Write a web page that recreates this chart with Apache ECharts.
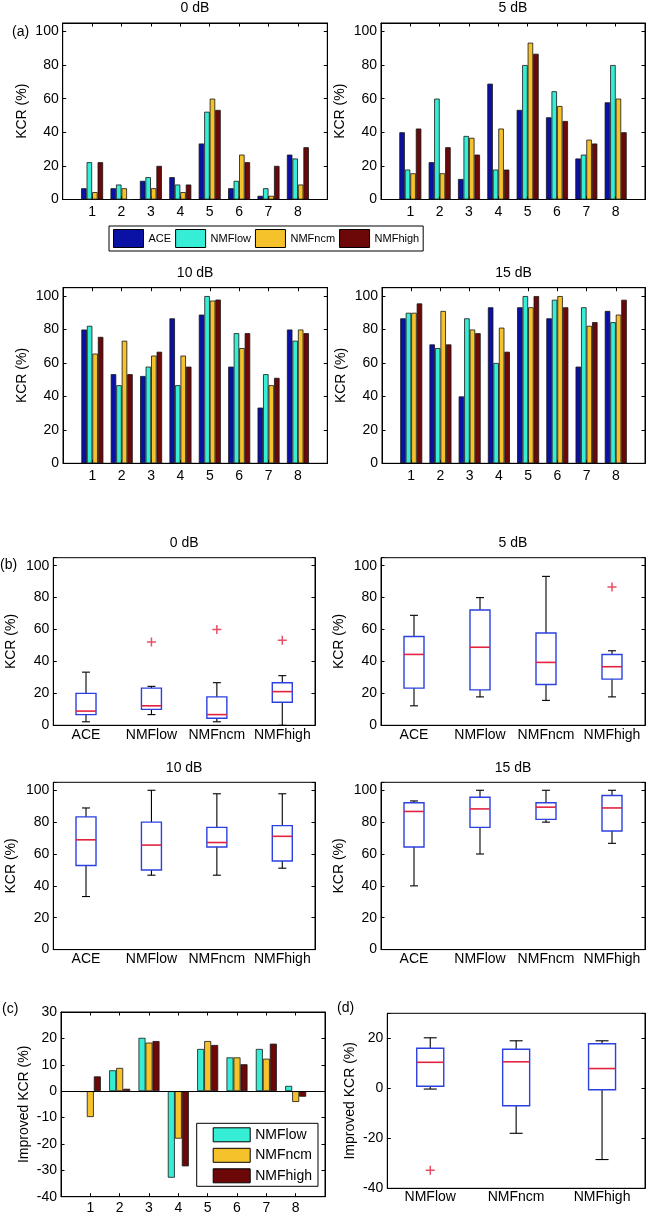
<!DOCTYPE html>
<html><head><meta charset="utf-8">
<script src="https://cdn.jsdelivr.net/npm/echarts@6/dist/echarts.min.js"></script>
<style>html,body{margin:0;padding:0;background:#fff}#c{width:650px;height:1218px}</style>
</head><body><div id="c"></div>
<script>
// ---------- DATA ----------
const categories = [1, 2, 3, 4, 5, 6, 7, 8];
const methods = ['ACE', 'NMFlow', 'NMFncm', 'NMFhigh'];
const nmfMethods = ['NMFlow', 'NMFncm', 'NMFhigh'];
const snrTitles = ['0 dB', '5 dB', '10 dB', '15 dB'];

// (a) KCR (%) per item, per SNR
const ace0  = [6.7, 6.7, 11.1, 13.3, 33.3, 6.7, 2.2, 26.7];
const low0  = [22.2, 8.9, 13.3, 8.9, 52.2, 11.1, 6.7, 24.4];
const ncm0  = [4.4, 6.7, 6.7, 4.4, 60, 26.7, 2.2, 8.9];
const high0 = [22.2, 0, 20, 8.9, 53.3, 22.2, 20, 31.1];

const ace5  = [40, 22.2, 12.2, 68.9, 53.3, 48.9, 24.4, 57.8];
const low5  = [17.8, 60, 37.8, 17.8, 80, 64.4, 26.7, 80];
const ncm5  = [15.6, 15.6, 36.7, 42.2, 93.3, 55.6, 35.6, 60];
const high5 = [42.2, 31.1, 26.7, 17.8, 86.7, 46.7, 33.3, 40];

const ace10  = [80, 53.3, 52.2, 86.7, 88.9, 57.8, 33.3, 80];
const low10  = [82.2, 46.7, 57.8, 46.7, 100, 77.8, 53.3, 73.3];
const ncm10  = [65.6, 73.3, 64.4, 64.4, 97.3, 68.9, 46.7, 80];
const high10 = [75.6, 53.3, 66.7, 57.8, 97.9, 77.8, 51.1, 77.8];

const ace15  = [86.7, 71.1, 40, 93.3, 93.3, 86.7, 57.8, 91.1];
const low15  = [90, 68.9, 86.7, 60, 100, 97.8, 93.3, 84.4];
const ncm15  = [90, 91.1, 80, 81.1, 93.3, 100, 82.2, 88.9];
const high15 = [95.6, 71.1, 77.8, 66.7, 100, 93.3, 84.4, 97.8];

// (b) box statistics [min, Q1, median, Q3, max] per method
const box0  = [[2.2, 6.7, 8.9, 20, 33.3], [6.7, 10, 12.2, 23.3, 24.4], [2.2, 4.4, 6.7, 17.8, 26.7], [0, 14.4, 21.1, 26.7, 31.1]];
const box5  = [[12.2, 23.3, 44.4, 55.6, 68.9], [17.8, 22.2, 48.9, 72.2, 80], [15.6, 25.6, 39.4, 57.8, 93.3], [17.8, 28.9, 36.7, 44.4, 46.7]];
const box10 = [[33.3, 52.8, 68.9, 83.3, 88.9], [46.7, 50, 65.6, 80, 100], [46.7, 64.4, 67.2, 76.7, 97.8], [51.1, 55.6, 71.1, 77.8, 97.8]];
const box15 = [[40, 64.4, 86.7, 92.2, 93.3], [60, 76.7, 88.3, 95.6, 100], [80, 81.7, 89.4, 92.2, 100], [66.7, 74.4, 88.9, 96.7, 100]];
// outliers [methodIndex, value]
const out0  = [[1, 52.2], [2, 60], [3, 53.3]];
const out5  = [[3, 86.7]];
const out10 = [];
const out15 = [];

// (c) improved KCR (%)
const impLow  = [-0.3, 7.9, 20.2, -32.8, 16, 12.8, 16, 2.0];
const impNcm  = [-9.8, 8.8, 18.4, -18, 19, 12.8, 12.3, -4.1];
const impHigh = [5.6, 0.9, 19, -28.5, 17.5, 10.2, 18, -2.1];

// (d) box statistics of improved KCR
const boxImp = [[-0.3, 0.85, 10.4, 16, 20.2], [-18, -7, 10.6, 15.6, 19], [-28.5, -0.6, 7.9, 17.8, 19]];
const outImp = [[0, -32.8]];

// ---------- STYLE ----------
const FONT = '"Liberation Sans", Arial, Helvetica, sans-serif';
const COLORS = { ACE: '#0a12a6', NMFlow: '#36eed6', NMFncm: '#f6c22c', NMFhigh: '#6c0808' };
const BOX_BLUE = '#2b40e0';
const MED_RED = '#e2233f';
const CROSS = 'path://M0,3.75h9v1.5h-9zM3.75,0h1.5v9h-1.5z';

const grids = [], xAxes = [], yAxes = [], series = [], graphics = [];

function addGrid(r) {
  grids.push({ left: r[0], top: r[1], width: r[2], height: r[3], show: true,
    borderColor: '#000', borderWidth: 1, backgroundColor: '#fff' });
  return grids.length - 1;
}
function lineAx() { return { show: true, onZero: false, lineStyle: { color: '#000', width: 1 } }; }

function addYAxes(gi, min, max, interval, name, nameGap) {
  const base = { type: 'value', gridIndex: gi, min: min, max: max, interval: interval,
    axisLine: lineAx(), splitLine: { show: false },
    axisTick: { show: true, inside: true, length: 3.5, lineStyle: { color: '#000' } } };
  yAxes.push(Object.assign({}, base, { position: 'left',
    name: name, nameLocation: 'middle', nameGap: nameGap, nameRotate: 90,
    nameTextStyle: { fontSize: 14, color: '#000', fontFamily: FONT },
    axisLabel: { show: true, margin: 4, fontSize: 14, color: '#000', fontFamily: FONT,
      formatter: v => (Math.abs(v % interval) < 1e-9 && v !== max) || (v === max && max % interval === 0) ? String(v) : '' } }));
  const li = yAxes.length - 1;
  yAxes.push(Object.assign({}, base, { position: 'right', axisLabel: { show: false } }));
  return li;
}

function addValueXAxes(gi, margin, withTop) {
  const base = { type: 'value', gridIndex: gi, min: 0, max: 9, interval: 1,
    axisLine: lineAx(), splitLine: { show: false },
    axisTick: { show: true, inside: true, length: 3.5, lineStyle: { color: '#000' } } };
  xAxes.push(Object.assign({}, base, { position: 'bottom',
    axisLabel: { show: true, margin: margin, fontSize: 14, color: '#000', fontFamily: FONT,
      formatter: v => categories.includes(v) ? String(v) : '' } }));
  const xi = xAxes.length - 1;
  if (withTop) xAxes.push(Object.assign({}, base, { position: 'top', axisLabel: { show: false } }));
  return xi;
}

function addCatXAxis(gi, cats, margin) {
  xAxes.push({ type: 'category', gridIndex: gi, data: cats, boundaryGap: true, position: 'bottom',
    axisLine: lineAx(), axisTick: { show: false }, splitLine: { show: false },
    axisLabel: { show: true, margin: margin, fontSize: 14, color: '#000', fontFamily: FONT, interval: 0 } });
  return xAxes.length - 1;
}

function addBars(xi, yi, names, arrays, barWidth) {
  names.forEach((n, k) => {
    series.push({ type: 'bar', name: n, xAxisIndex: xi, yAxisIndex: yi,
      data: categories.map((c, i) => [c, arrays[k][i]]),
      barWidth: barWidth, barGap: '0%',
      itemStyle: { color: COLORS[n], borderColor: '#151515', borderWidth: 0.8 },
      emphasis: { disabled: true }, silent: true });
  });
}

function boxRenderer(bw, cw) {
  return function (params, api) {
    const i = api.value(0);
    const c = v => api.coord([i, v]);
    const pLo = c(api.value(1)), pQ1 = c(api.value(2)), pMed = c(api.value(3)),
          pQ3 = c(api.value(4)), pHi = c(api.value(5));
    const x = pLo[0];
    const blk = { stroke: '#000', lineWidth: 1.1 };
    return { type: 'group', children: [
      { type: 'line', shape: { x1: x, y1: pQ1[1], x2: x, y2: pLo[1] }, style: blk },
      { type: 'line', shape: { x1: x, y1: pQ3[1], x2: x, y2: pHi[1] }, style: blk },
      { type: 'line', shape: { x1: x - cw / 2, y1: pLo[1], x2: x + cw / 2, y2: pLo[1] }, style: blk },
      { type: 'line', shape: { x1: x - cw / 2, y1: pHi[1], x2: x + cw / 2, y2: pHi[1] }, style: blk },
      { type: 'rect', shape: { x: x - bw / 2, y: pQ3[1], width: bw, height: pQ1[1] - pQ3[1] },
        style: { fill: 'none', stroke: BOX_BLUE, lineWidth: 1.4 } },
      { type: 'line', shape: { x1: x - bw / 2, y1: pMed[1], x2: x + bw / 2, y2: pMed[1] },
        style: { stroke: MED_RED, lineWidth: 1.6 } }
    ] };
  };
}

function addBoxes(xi, yi, stats, outs, bw, cw) {
  series.push({ type: 'custom', xAxisIndex: xi, yAxisIndex: yi,
    data: stats.map((s, i) => [i].concat(s)),
    encode: { x: 0, y: [1, 2, 3, 4, 5] },
    renderItem: boxRenderer(bw, cw), silent: true, z: 3 });
  if (outs.length) {
    series.push({ type: 'scatter', xAxisIndex: xi, yAxisIndex: yi, data: outs,
      symbol: CROSS, symbolSize: 9, itemStyle: { color: MED_RED }, silent: true, z: 4 });
  }
}

function text(t, x, y, align, size) {
  graphics.push({ type: 'text', x: x, y: y, silent: true,
    style: { text: t, align: align || 'center', verticalAlign: 'middle',
      fontSize: size || 14, fontFamily: FONT, fill: '#000' } });
}

// ---------- (a) bar panels ----------
const barRects = [[62.7, 23, 264.6, 176.5], [381, 23, 264, 176.5], [63, 287.7, 264.3, 175.6], [382, 287.7, 263, 175.6]];
const barData = [[ace0, low0, ncm0, high0], [ace5, low5, ncm5, high5], [ace10, low10, ncm10, high10], [ace15, low15, ncm15, high15]];
barRects.forEach((r, k) => {
  const gi = addGrid(r);
  const xi = addValueXAxes(gi, 6, true);
  const yi = addYAxes(gi, 0, 105, 20, 'KCR (%)', 34);
  addBars(xi, yi, methods, barData[k], 5.5);
  text(snrTitles[k], r[0] + r[2] / 2, r[1] - 15);
});

// ---------- (b) box panels ----------
const boxRects = [[53.3, 557.7, 261.7, 167.6], [381, 557.7, 264, 167.6], [53.3, 782.3, 261.7, 167.3], [381, 782.3, 264, 167.3]];
const boxData = [box0, box5, box10, box15];
const outData = [out0, out5, out10, out15];
boxRects.forEach((r, k) => {
  const gi = addGrid(r);
  const xi = addCatXAxis(gi, methods, 3);
  const yi = addYAxes(gi, 0, 105, 20, 'KCR (%)', 35);
  addBoxes(xi, yi, boxData[k], outData[k], 20, 8);
  text(snrTitles[k], r[0] + r[2] / 2, r[1] - 14.5);
});

// ---------- (c) improved bars ----------
(function () {
  const gi = addGrid([61, 1012, 264, 184.7]);
  const xi = addValueXAxes(gi, 4, true);
  const yi = addYAxes(gi, -40, 30, 10, 'Improved KCR (%)', 30);
  addBars(xi, yi, nmfMethods, [impLow, impNcm, impHigh], 7);
  series[series.length - 3].markLine = { silent: true, symbol: 'none', animation: false,
    label: { show: false }, lineStyle: { color: '#000', width: 1, type: 'solid' },
    data: [{ yAxis: 0 }] };
})();

// ---------- (d) improved boxes ----------
(function () {
  const gi = addGrid([387.3, 1013.3, 257.7, 175]);
  const xi = addCatXAxis(gi, nmfMethods, 2);
  const yi = addYAxes(gi, -40, 30, 20, 'Improved KCR (%)', 30);
  addBoxes(xi, yi, boxImp, outImp, 27, 13);
})();

// panel letters
text('(a)', 12, 32, 'left');
text('(b)', 0, 565.3, 'left');
text('(c)', 2, 1009.3, 'left');
text('(d)', 337, 1008.3, 'left');

const option = {
  animation: false,
  backgroundColor: '#fff',
  textStyle: { fontFamily: FONT },
  grid: grids, xAxis: xAxes, yAxis: yAxes, series: series,
  legend: [
    { data: methods, left: 109, top: 226, orient: 'horizontal', icon: 'rect',
      padding: [3, 4, 3, 4], itemGap: 4, itemWidth: 30, itemHeight: 18, itemTextGap: 4,
      borderColor: '#000', borderWidth: 1, backgroundColor: '#fff', selectedMode: false,
      itemStyle: { borderColor: '#000', borderWidth: 1 },
      textStyle: { fontSize: 11, color: '#000', fontFamily: FONT } },
    { data: nmfMethods, left: 196.7, top: 1123.3, orient: 'vertical', icon: 'rect',
      padding: [4, 6, 3, 16], itemGap: 5.5, itemWidth: 37, itemHeight: 14, itemTextGap: 3,
      borderColor: '#000', borderWidth: 1, backgroundColor: '#fff', selectedMode: false,
      itemStyle: { borderColor: '#000', borderWidth: 1 }, z: 10,
      textStyle: { fontSize: 14, color: '#000', fontFamily: FONT } }
  ],
  graphic: graphics
};
const chart = echarts.init(document.getElementById('c'), null, { renderer: 'canvas' });
chart.setOption(option);
</script></body></html>
